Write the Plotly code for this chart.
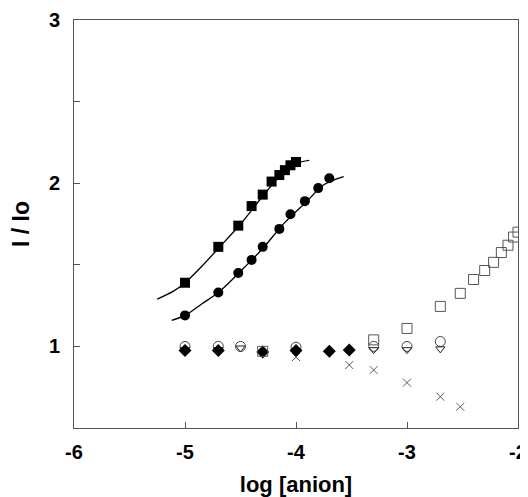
import plotly.graph_objects as go

# Filled squares with fitted curve
sq_x = [-5.0, -4.7, -4.52, -4.4, -4.3, -4.22, -4.15, -4.1, -4.05, -4.0]
sq_y = [1.39, 1.61, 1.74, 1.86, 1.93, 2.01, 2.05, 2.08, 2.11, 2.13]
fit_sq_x = [-5.25, -5.1, -5.0, -4.85, -4.7, -4.5, -4.3, -4.15, -4.0, -3.88]
fit_sq_y = [1.29, 1.34, 1.39, 1.49, 1.60, 1.75, 1.92, 2.04, 2.12, 2.14]

# Filled circles with fitted curve
ci_x = [-5.0, -4.7, -4.52, -4.4, -4.3, -4.15, -4.05, -3.92, -3.8, -3.7]
ci_y = [1.19, 1.33, 1.45, 1.53, 1.61, 1.72, 1.81, 1.89, 1.97, 2.03]
fit_ci_x = [-5.12, -5.0, -4.85, -4.7, -4.5, -4.3, -4.1, -3.9, -3.75, -3.57]
fit_ci_y = [1.16, 1.19, 1.26, 1.33, 1.46, 1.60, 1.76, 1.89, 1.99, 2.04]

# Open squares
osq_x = [-4.3, -3.3, -3.0, -2.7, -2.52, -2.4, -2.3, -2.22, -2.15, -2.09, -2.04, -2.0]
osq_y = [0.97, 1.04, 1.11, 1.245, 1.325, 1.41, 1.465, 1.515, 1.575, 1.62, 1.67, 1.70]

# Crosses
cr_x = [-4.0, -3.52, -3.3, -3.0, -2.7, -2.52]
cr_y = [0.935, 0.886, 0.855, 0.778, 0.692, 0.63]

# Filled diamonds
di_x = [-5.0, -4.7, -4.3, -4.0, -3.7, -3.52]
di_y = [0.975, 0.975, 0.965, 0.975, 0.97, 0.978]

# Open circles
oc_x = [-5.0, -4.7, -4.5, -4.0, -3.3, -3.0, -2.7]
oc_y = [1.0, 1.0, 1.0, 0.995, 1.0, 1.0, 1.03]

# Open down triangles
tr_x = [-5.0, -4.7, -4.5, -4.0, -3.3, -3.0, -2.7]
tr_y = [0.98, 0.98, 0.99, 0.97, 0.98, 0.98, 0.985]

x_ticks = [-6, -5, -4, -3, -2]
y_ticks = [0.5, 1, 1.5, 2, 2.5, 3]
y_ticktext = ["", "1", "", "2", "", "3"]

fig = go.Figure()

fig.add_trace(go.Scatter(x=fit_sq_x, y=fit_sq_y, mode="lines",
                         line=dict(color="black", width=1.3, shape="spline"), hoverinfo="skip"))
fig.add_trace(go.Scatter(x=fit_ci_x, y=fit_ci_y, mode="lines",
                         line=dict(color="black", width=1.3, shape="spline"), hoverinfo="skip"))

fig.add_trace(go.Scatter(x=oc_x, y=oc_y, mode="markers",
                         marker=dict(symbol="circle-open", size=10, color="#444", line=dict(width=1))))
fig.add_trace(go.Scatter(x=tr_x, y=tr_y, mode="markers",
                         marker=dict(symbol="triangle-down-open", size=8, color="#222", line=dict(width=1))))
fig.add_trace(go.Scatter(x=di_x, y=di_y, mode="markers",
                         marker=dict(symbol="diamond", size=10, color="black")))
fig.add_trace(go.Scatter(x=osq_x, y=osq_y, mode="markers",
                         marker=dict(symbol="square-open", size=10, color="#555", line=dict(width=1))))
fig.add_trace(go.Scatter(x=cr_x, y=cr_y, mode="markers",
                         marker=dict(symbol="x-thin-open", size=8, color="#333", line=dict(width=0.8))))
fig.add_trace(go.Scatter(x=sq_x, y=sq_y, mode="markers",
                         marker=dict(symbol="square", size=10, color="black")))
fig.add_trace(go.Scatter(x=ci_x, y=ci_y, mode="markers",
                         marker=dict(symbol="circle", size=10, color="black")))

tick_font = dict(family="Liberation Sans, Arial, sans-serif", size=20, color="black", weight="bold")

# The page places the figure 8px in from the top-left corner, so the
# figure is 8px smaller and its margins are shifted to compensate.
fig.update_layout(
    width=520, height=489,
    margin=dict(l=66, r=10, t=12, b=69),
    plot_bgcolor="white", paper_bgcolor="white",
    showlegend=False,
    font=dict(family="Liberation Sans, Arial, sans-serif", color="black"),
    xaxis=dict(range=[-6, -2], tickvals=x_ticks, ticktext=[str(v) for v in x_ticks],
               ticks="inside", ticklen=6, tickcolor="#555", showgrid=False, zeroline=False,
               showline=True, linecolor="#555", linewidth=1, mirror=True, automargin=False,
               tickfont=tick_font, ticklabelstandoff=6,
               title=dict(text="<b>log [anion]</b>", font=dict(size=22), standoff=16)),
    yaxis=dict(range=[0.5, 3], tickvals=y_ticks, ticktext=y_ticktext,
               ticks="inside", ticklen=6, tickcolor="#555", showgrid=False, zeroline=False,
               showline=True, linecolor="#555", linewidth=1, mirror=True, automargin=False,
               tickfont=tick_font, ticklabelstandoff=9,
               title=dict(text="<b>I / Io</b>", font=dict(size=23), standoff=21)),
)

fig.write_html("out.html")
